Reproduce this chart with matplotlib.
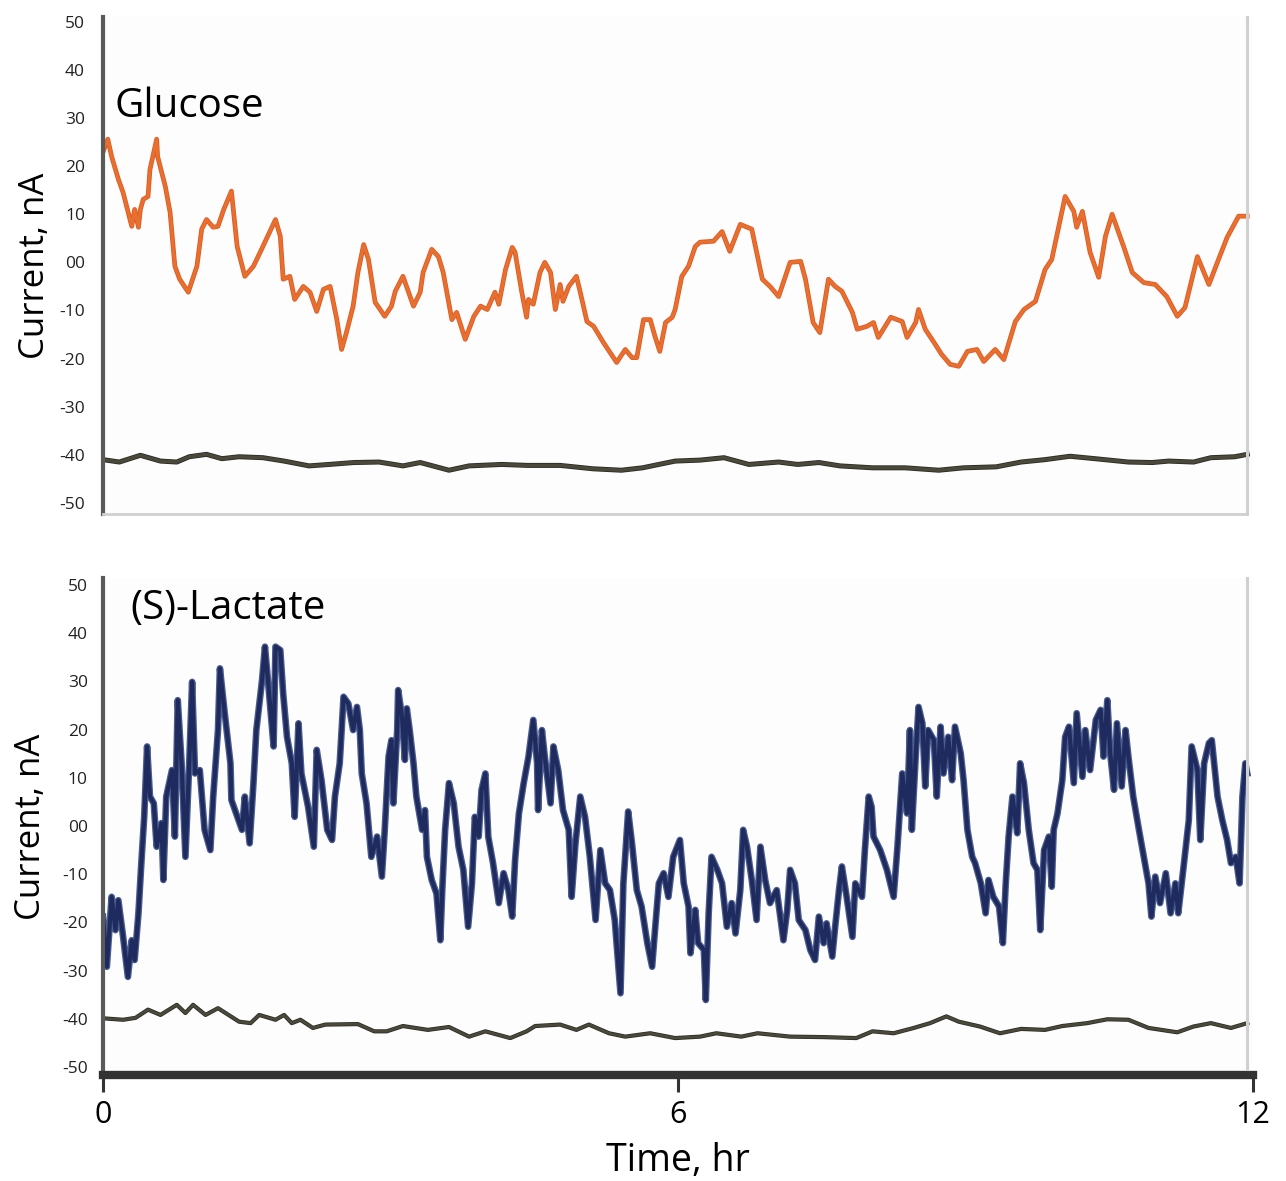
import matplotlib
matplotlib.use("Agg")
import matplotlib.pyplot as plt

plt.rcParams['font.family'] = ['Open Sans', 'DejaVu Sans']

# ---- Glucose sensor trace (hours, nA) ----
glucose_t = [0.00, 0.05, 0.09, 0.16, 0.21, 0.30, 0.33, 0.37, 0.39, 0.42, 0.47, 0.49, 0.56, 0.57,
             0.65, 0.70, 0.75, 0.80, 0.89, 0.98, 1.03, 1.08, 1.15, 1.20, 1.26, 1.34, 1.40, 1.48,
             1.57, 1.64, 1.80, 1.85, 1.88, 1.95, 2.00, 2.09, 2.16, 2.23, 2.30, 2.37, 2.44, 2.49,
             2.54, 2.61, 2.66, 2.72, 2.77, 2.84, 2.94, 3.01, 3.05, 3.13, 3.24, 3.31, 3.34, 3.43,
             3.50, 3.55, 3.64, 3.69, 3.78, 3.87, 3.94, 4.01, 4.09, 4.13, 4.20, 4.27, 4.30, 4.37,
             4.42, 4.44, 4.49, 4.56, 4.61, 4.67, 4.72, 4.77, 4.80, 4.86, 4.94, 4.98, 5.05, 5.12,
             5.22, 5.29, 5.36, 5.45, 5.52, 5.57, 5.64, 5.71, 5.76, 5.81, 5.87, 5.94, 5.97, 6.04,
             6.11, 6.18, 6.23, 6.37, 6.46, 6.54, 6.65, 6.77, 6.88, 6.96, 7.05, 7.17, 7.28, 7.33,
             7.41, 7.48, 7.57, 7.64, 7.71, 7.82, 7.87, 7.97, 8.04, 8.09, 8.22, 8.34, 8.39, 8.48,
             8.51, 8.58, 8.67, 8.75, 8.84, 8.93, 9.02, 9.12, 9.19, 9.31, 9.40, 9.52, 9.61, 9.73,
             9.83, 9.90, 9.96, 10.04, 10.13, 10.16, 10.22, 10.30, 10.39, 10.46, 10.53, 10.65,
             10.74, 10.86, 10.98, 11.10, 11.21, 11.29, 11.42, 11.54, 11.64, 11.73, 11.85, 11.94]
glucose_i = [22.9, 25.6, 22.0, 17.3, 14.5, 7.5, 11.0, 7.3, 11.0, 13.1, 13.7, 19.3, 25.6, 22.0,
             15.8, 10.4, -0.8, -3.5, -6.2, -0.8, 6.9, 8.9, 7.3, 7.5, 11.0, 14.8, 3.3, -2.9,
             -0.8, 2.1, 8.9, 5.4, -3.5, -2.9, -7.7, -5.0, -6.2, -10.2, -5.6, -5.0, -11.9, -18.1,
             -14.6, -9.1, -2.1, 3.7, 0.6, -8.3, -11.2, -9.1, -6.0, -2.9, -9.1, -6.2, -2.1, 2.7,
             1.2, -2.1, -11.9, -10.4, -16.0, -11.2, -9.1, -9.8, -6.2, -8.7, -1.5, 3.1, 2.1, -6.2,
             -11.4, -7.7, -8.7, -2.1, 0.0, -2.1, -9.8, -4.6, -8.1, -5.0, -2.9, -6.2, -12.3, -13.3,
             -16.6, -18.7, -20.8, -18.1, -19.8, -19.8, -11.9, -11.9, -15.4, -18.5, -12.5, -11.4, -9.8, -2.9,
             -0.8, 3.3, 4.2, 4.4, 6.4, 2.3, 7.9, 6.9, -3.5, -5.0, -7.1, 0.0, 0.2, -3.5,
             -12.5, -14.6, -3.5, -5.0, -6.0, -10.4, -13.9, -13.3, -12.5, -15.6, -11.4, -12.3, -15.6, -12.5,
             -9.8, -13.9, -16.6, -19.1, -21.2, -21.6, -18.5, -18.1, -20.6, -18.1, -20.2, -12.3, -9.8, -8.1,
             -1.5, 0.6, 6.2, 13.7, 10.6, 7.3, 10.6, 2.1, -3.1, 5.4, 10.0, 3.3,
             -2.1, -4.2, -4.6, -7.1, -11.2, -9.4, 1.2, -4.6, 0.6, 5.2, 9.6, 9.6]

# ---- Glucose panel background (control) trace ----
glucose_bg_t = [0.00, 0.17, 0.39, 0.60, 0.77, 0.90, 1.08, 1.24, 1.42, 1.67, 1.89, 2.15, 2.36, 2.62,
                2.88, 3.13, 3.31, 3.61, 3.82, 4.16, 4.43, 4.77, 5.11, 5.41, 5.63, 5.97, 6.23, 6.48,
                6.74, 7.05, 7.25, 7.47, 7.69, 8.03, 8.37, 8.72, 8.98, 9.32, 9.58, 9.83, 10.09, 10.35,
                10.70, 10.95, 11.12, 11.38, 11.56, 11.81, 11.94]
glucose_bg_i = [-41.0, -41.5, -40.1, -41.3, -41.5, -40.4, -39.9, -40.8, -40.4, -40.6, -41.3, -42.3, -42.0, -41.6,
                -41.5, -42.3, -41.6, -43.2, -42.3, -42.0, -42.2, -42.2, -42.9, -43.2, -42.7, -41.3, -41.1, -40.6,
                -42.0, -41.5, -42.0, -41.6, -42.3, -42.7, -42.7, -43.2, -42.7, -42.5, -41.5, -41.0, -40.3, -40.8,
                -41.5, -41.6, -41.3, -41.5, -40.6, -40.4, -39.9]

# ---- (S)-Lactate sensor trace (hours, nA) ----
lactate_t = [0.00, 0.04, 0.09, 0.13, 0.16, 0.21, 0.26, 0.30, 0.33, 0.37, 0.40, 0.43, 0.46, 0.49,
             0.53, 0.56, 0.61, 0.63, 0.66, 0.72, 0.75, 0.78, 0.82, 0.86, 0.90, 0.93, 0.96, 1.01,
             1.06, 1.12, 1.15, 1.20, 1.22, 1.27, 1.33, 1.34, 1.45, 1.48, 1.53, 1.57, 1.60, 1.66,
             1.69, 1.73, 1.78, 1.80, 1.85, 1.88, 1.92, 1.97, 2.00, 2.04, 2.07, 2.14, 2.20, 2.23,
             2.28, 2.34, 2.39, 2.42, 2.47, 2.51, 2.56, 2.61, 2.65, 2.68, 2.70, 2.75, 2.80, 2.86,
             2.91, 2.94, 2.98, 3.01, 3.03, 3.07, 3.08, 3.12, 3.15, 3.17, 3.20, 3.24, 3.27, 3.33,
             3.36, 3.38, 3.43, 3.48, 3.52, 3.54, 3.57, 3.61, 3.66, 3.71, 3.76, 3.81, 3.85, 3.88,
             3.92, 3.95, 3.99, 4.02, 4.07, 4.13, 4.18, 4.23, 4.27, 4.30, 4.34, 4.39, 4.44, 4.49,
             4.53, 4.54, 4.58, 4.61, 4.67, 4.70, 4.75, 4.80, 4.86, 4.89, 4.93, 4.98, 5.03, 5.08,
             5.14, 5.19, 5.24, 5.29, 5.34, 5.40, 5.43, 5.48, 5.52, 5.57, 5.62, 5.68, 5.73, 5.76,
             5.80, 5.85, 5.90, 5.95, 6.02, 6.06, 6.11, 6.13, 6.18, 6.21, 6.27, 6.29, 6.32, 6.35,
             6.41, 6.46, 6.51, 6.56, 6.60, 6.65, 6.68, 6.72, 6.77, 6.82, 6.86, 6.91, 6.96, 7.03,
             7.10, 7.14, 7.17, 7.22, 7.26, 7.33, 7.38, 7.43, 7.47, 7.52, 7.55, 7.61, 7.64, 7.68,
             7.71, 7.76, 7.82, 7.85, 7.92, 7.95, 7.99, 8.02, 8.04, 8.11, 8.18, 8.25, 8.29, 8.34,
             8.39, 8.42, 8.44, 8.48, 8.51, 8.55, 8.58, 8.61, 8.67, 8.70, 8.74, 8.77, 8.82, 8.86,
             8.89, 8.95, 8.98, 9.02, 9.07, 9.10, 9.16, 9.21, 9.24, 9.29, 9.35, 9.39, 9.42, 9.45,
             9.49, 9.54, 9.57, 9.61, 9.66, 9.71, 9.75, 9.78, 9.82, 9.87, 9.90, 9.92, 9.96, 10.01,
             10.04, 10.08, 10.13, 10.16, 10.22, 10.25, 10.30, 10.36, 10.41, 10.44, 10.48, 10.51, 10.55, 10.58,
             10.63, 10.67, 10.70, 10.75, 10.81, 10.86, 10.91, 10.94, 10.98, 11.03, 11.09, 11.14, 11.19, 11.22,
             11.28, 11.33, 11.36, 11.42, 11.45, 11.49, 11.54, 11.57, 11.63, 11.68, 11.73, 11.77, 11.82, 11.86,
             11.89, 11.92, 11.94]
lactate_i = [-18.8, -29.2, -14.7, -21.6, -15.4, -23.0, -31.3, -23.7, -27.8, -18.1, -7.7, 1.9, 16.5, 6.1,
             4.7, -4.3, 0.6, -11.2, 6.1, 11.6, -2.2, 26.1, 13.0, -6.4, 13.0, 29.9, 10.9, 11.6,
             -0.8, -5.0, 6.1, 19.9, 32.7, 23.4, 13.0, 5.4, -0.8, 6.1, -3.6, 8.9, 19.9, 30.3,
             37.2, 28.2, 16.5, 37.2, 36.5, 27.5, 18.5, 13.0, 1.9, 21.3, 10.9, 4.0, -4.3, 15.8,
             9.5, -0.8, -2.9, 6.1, 13.0, 26.8, 25.4, 19.9, 24.7, 19.9, 10.9, 4.7, -6.4, -2.2,
             -10.5, -0.8, 14.4, 17.8, 4.7, 19.9, 28.2, 22.7, 13.7, 24.4, 19.9, 13.0, 6.1, -0.8,
             3.3, -6.4, -11.2, -14.0, -23.7, -13.3, -0.8, 8.9, 4.7, -4.3, -9.1, -20.9, -11.9, 1.9,
             -2.2, 7.5, 10.9, -2.2, -7.7, -16.0, -9.8, -13.3, -18.8, -7.1, 2.6, 8.9, 14.4, 22.0,
             13.0, 3.3, 19.9, 14.4, 4.7, 16.5, 11.6, 3.3, -0.8, -14.7, -3.6, 6.1, 1.9, -6.4,
             -19.5, -5.0, -11.9, -13.3, -19.5, -34.7, -11.9, 3.0, -3.6, -13.3, -16.7, -24.3, -29.2, -21.6,
             -11.9, -9.8, -14.7, -6.4, -2.9, -11.9, -16.7, -26.4, -17.4, -24.3, -25.7, -36.1, -18.1, -6.4,
             -9.1, -11.9, -20.9, -16.0, -22.3, -13.3, -0.8, -4.3, -11.2, -19.5, -4.3, -11.2, -16.0, -13.3,
             -23.7, -17.4, -9.1, -11.9, -19.5, -21.6, -25.7, -27.8, -18.8, -24.3, -20.2, -27.1, -20.9, -13.3,
             -8.4, -14.7, -23.0, -11.9, -14.7, -5.0, 6.1, 4.0, -2.2, -5.0, -9.1, -14.7, -4.3, 10.9,
             2.6, 19.9, -0.8, 14.4, 24.7, 21.3, 8.2, 19.9, 17.8, 6.1, 20.6, 10.9, 18.5, 9.5,
             20.6, 15.1, 9.5, -0.8, -6.4, -7.7, -11.9, -18.1, -11.2, -14.7, -16.7, -24.3, -11.9, -2.2,
             6.1, -1.5, 13.0, 8.9, -0.8, -7.7, -9.1, -21.6, -5.0, -2.2, -12.6, -0.8, 2.6, 9.5,
             18.5, 20.6, 8.9, 23.4, 10.2, 19.9, 11.6, 22.0, 24.1, 14.4, 26.1, 15.1, 7.5, 21.3,
             8.2, 19.9, 14.4, 6.1, -0.8, -6.4, -11.9, -18.8, -10.5, -16.0, -9.8, -18.1, -11.9, -18.1,
             -7.7, 1.2, 16.5, 11.6, -2.9, 13.0, 17.2, 17.8, 6.1, 1.2, -2.9, -7.7, -6.4, -11.9,
             6.1, 13.0, 10.9]

# ---- Lactate panel background (control) trace ----
lactate_bg_t = [0.00, 0.21, 0.34, 0.47, 0.60, 0.77, 0.86, 0.94, 1.07, 1.20, 1.42, 1.54, 1.63, 1.80,
                1.89, 1.97, 2.06, 2.19, 2.32, 2.66, 2.83, 2.96, 3.13, 3.39, 3.61, 3.82, 3.99, 4.25,
                4.42, 4.51, 4.77, 4.94, 5.07, 5.28, 5.45, 5.71, 5.97, 6.23, 6.40, 6.66, 6.83, 7.17,
                7.52, 7.86, 8.03, 8.25, 8.46, 8.63, 8.80, 8.93, 9.15, 9.36, 9.58, 9.83, 10.01, 10.27,
                10.48, 10.70, 10.91, 11.21, 11.38, 11.56, 11.77, 11.94]
lactate_bg_i = [-39.9, -40.2, -39.8, -38.1, -39.2, -37.1, -38.8, -37.1, -39.2, -37.8, -40.6, -40.9, -39.2, -40.2,
                -39.2, -40.9, -40.2, -41.9, -41.2, -41.1, -42.6, -42.6, -41.5, -42.3, -41.7, -43.7, -42.6, -44.0,
                -42.6, -41.5, -41.2, -42.3, -41.2, -43.0, -43.7, -43.0, -44.0, -43.7, -43.0, -43.7, -43.0, -43.7,
                -43.8, -44.0, -42.6, -43.0, -41.9, -40.9, -39.5, -40.6, -41.6, -43.0, -42.1, -42.3, -41.5, -40.9,
                -40.1, -40.2, -41.9, -42.8, -41.6, -40.9, -41.9, -40.9]

y_ticks = [50, 40, 30, 20, 10, 0, -10, -20, -30, -40, -50]
y_tick_labels = ['50', '40', '30', '20', '10', '00', '-10', '-20', '-30', '-40', '-50']
x_ticks = [0, 6, 12]
x_tick_labels = ['0', '6', '12']

ORANGE = '#e8702f'
NAVY_DARK = '#1f2a5e'
NAVY_LIGHT = '#4a5d8f'
OLIVE = '#4b4a3a'
OLIVE_EDGE = '#2a2a26'
LIGHT_GRAY = '#d0d0d0'

W, H = 1286, 1181
fig = plt.figure(figsize=(W / 100, H / 100), dpi=100)
fig.patch.set_facecolor('white')

ax_left = 103 / W
ax_width = 1150 / W
ax_top = fig.add_axes([ax_left, 1 - 514 / H, ax_width, 497 / H])
ax_bot = fig.add_axes([ax_left, 1 - 1075 / H, ax_width, 497 / H])

t_end = glucose_t[-1]

for ax in (ax_top, ax_bot):
    ax.set_facecolor('#fdfdfd')
    ax.set_xlim(0, 12)
    ax.set_yticks(y_ticks)
    ax.set_yticklabels(y_tick_labels)
    ax.spines['top'].set_visible(False)
    ax.spines['right'].set_position(('data', t_end))
    ax.spines['right'].set_color(LIGHT_GRAY)
    ax.spines['right'].set_linewidth(2.2)
    ax.spines['left'].set_color('#5a5a5a')
    ax.spines['left'].set_linewidth(3)
    ax.tick_params(axis='y', length=0, labelsize=12.5, colors='#222222')
    ax.set_ylabel('Current, nA', fontsize=25, color='black')

# Top panel: glucose
ax_top.set_ylim(-52.3, 51.0)
ax_top.spines['bottom'].set_color(LIGHT_GRAY)
ax_top.spines['bottom'].set_linewidth(2)
ax_top.spines['bottom'].set_bounds(0, t_end)
ax_top.set_xticks([])
ax_top.tick_params(axis='y', pad=13)
ax_top.yaxis.set_label_coords(-0.044, 0.5)
ax_top.plot(glucose_bg_t, glucose_bg_i, color=OLIVE_EDGE, lw=3.6)
ax_top.plot(glucose_bg_t, glucose_bg_i, color=OLIVE, lw=2.4)
ax_top.plot(glucose_t, glucose_i, color='#de5a26', lw=3.4)
ax_top.plot(glucose_t, glucose_i, color=ORANGE, lw=2.2)
ax_top.text(0.0104, 0.82, 'Glucose', transform=ax_top.transAxes,
            fontsize=29, va='center', ha='left', color='black')

# Bottom panel: (S)-Lactate
ax_bot.set_ylim(-51.66, 51.45)
ax_bot.spines['right'].set_bounds(-50.3, 51.45)
ax_bot.spines['bottom'].set_color('#333333')
ax_bot.spines['bottom'].set_linewidth(6)
ax_bot.set_xticks(x_ticks)
ax_bot.set_xticklabels(x_tick_labels)
ax_bot.tick_params(axis='x', direction='out', length=12, width=2.2, color='#333333',
                   labelsize=22, pad=6)
ax_bot.tick_params(axis='y', pad=11)
ax_bot.yaxis.set_label_coords(-0.048, 0.5)
ax_bot.set_xlabel('Time, hr', fontsize=27, labelpad=9)
ax_bot.plot(lactate_bg_t, lactate_bg_i, color=OLIVE_EDGE, lw=3.0)
ax_bot.plot(lactate_bg_t, lactate_bg_i, color=OLIVE, lw=1.9)
ax_bot.plot(lactate_t, lactate_i, color=NAVY_LIGHT, lw=4.8)
ax_bot.plot(lactate_t, lactate_i, color=NAVY_DARK, lw=3.0)
ax_bot.text(0.0235, 0.938, '(S)-Lactate', transform=ax_bot.transAxes,
            fontsize=29, va='center', ha='left', color='black')

fig.savefig('out.png', dpi=100, facecolor='white')
